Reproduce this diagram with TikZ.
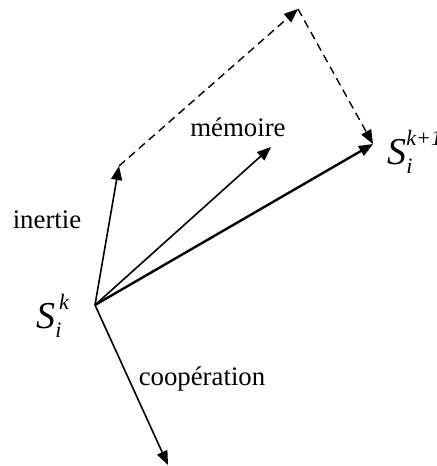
\documentclass[tikz,border=0pt]{standalone}
\usepackage{fontspec}
\setmainfont{Liberation Serif}
\usetikzlibrary{arrows.meta}
\newcommand{\symSI}[1]{\textit{S}\rlap{\raisebox{0.5em}{\fontsize{11}{12}\selectfont\textit{#1}}}\raisebox{-0.25em}{\fontsize{11}{12}\selectfont\textit{i}}}
\tikzset{
  vec/.style={line width=0.8pt,-{Triangle[length=7pt,width=5.5pt]}},
  thickvec/.style={line width=1.2pt,-{Triangle[length=7pt,width=5.5pt]}},
  dvec/.style={line width=0.7pt,dash pattern=on 4pt off 2.6pt,-{Triangle[length=7pt,width=5.5pt]}},
  lbl/.style={font=\fontsize{13.4}{15}\selectfont,inner sep=0pt},
  sym/.style={font=\fontsize{19}{21}\selectfont,inner sep=0pt}
}
\begin{document}
\begin{tikzpicture}[x=0.5pt,y=-0.5pt]
\useasboundingbox (0,0) rectangle (436,466);
\coordinate (O) at (95,305);
\coordinate (I) at (119,166);
\coordinate (M) at (271,147);
\coordinate (N) at (373,144);
\coordinate (C) at (168,465);
\coordinate (T) at (298,9);
\draw[vec] (O) -- (I);
\draw[vec] (O) -- (M);
\draw[thickvec] (O) -- (N);
\draw[vec] (O) -- (C);
\draw[dvec] (I) -- (T);
\draw[dvec] (T) -- (N);
\node[lbl] (li) at (47,220) {inertie};
\node[lbl] (lm) at (238,127) {mémoire};
\node[lbl] (lc) at (202,379) {coopération};
\node[sym,anchor=west] (sk) at (36,316) {\symSI{\,k}};
\node[sym,anchor=west] (sk1) at (387,152) {\symSI{k+1}};
\end{tikzpicture}
\end{document}
